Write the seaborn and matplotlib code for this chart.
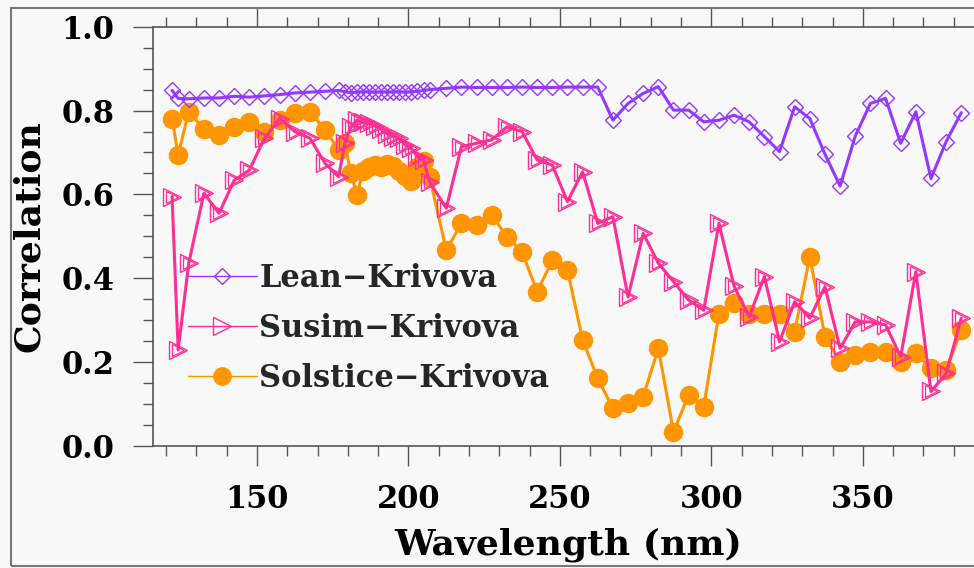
import numpy as np
import pandas as pd
import matplotlib
matplotlib.use("Agg")
import matplotlib.pyplot as plt
import seaborn as sns
from matplotlib.lines import Line2D
from matplotlib.patches import Rectangle
from matplotlib.ticker import MultipleLocator

# ---------------- data ----------------
wavelength = [122, 124, 127.5, 132.5, 137.5, 142.5, 147.5, 152.5, 157.5, 162.5, 167.5, 172.5, 177,
              179, 181, 183, 185, 187, 189, 191, 193, 195, 197, 199, 201, 203, 205, 207,
              212.5, 217.5, 222.5, 227.5, 232.5, 237.5, 242.5, 247.5, 252.5, 257.5, 262.5,
              267.5, 272.5, 277.5, 282.5, 287.5, 292.5, 297.5, 302.5, 307.5, 312.5, 317.5,
              322.5, 327.5, 332.5, 337.5, 342.5, 347.5, 352.5, 357.5, 362.5, 367.5, 372.5,
              377.5, 382.5]

lean = [0.848, 0.829, 0.828, 0.830, 0.830, 0.834, 0.832, 0.835, 0.838, 0.842, 0.844, 0.846, 0.848,
        0.845, 0.843, 0.844, 0.845, 0.845, 0.844, 0.845, 0.844, 0.845, 0.845, 0.844, 0.845, 0.846, 0.848, 0.850,
        0.853, 0.856, 0.855, 0.855, 0.855, 0.856, 0.855, 0.855, 0.856, 0.856, 0.856,
        0.777, 0.817, 0.841, 0.857, 0.801, 0.801, 0.773, 0.777, 0.789, 0.773, 0.738,
        0.702, 0.809, 0.781, 0.696, 0.620, 0.739, 0.817, 0.829, 0.722, 0.797, 0.638,
        0.726, 0.795]

susim = [0.595, 0.229, 0.436, 0.603, 0.555, 0.634, 0.658, 0.734, 0.781, 0.750, 0.734, 0.674, 0.642,
         0.722, 0.761, 0.777, 0.772, 0.770, 0.763, 0.755, 0.745, 0.738, 0.734, 0.718, 0.710, 0.690, 0.682, 0.630,
         0.567, 0.714, 0.722, 0.730, 0.761, 0.750, 0.682, 0.670, 0.583, 0.654, 0.531,
         0.547, 0.355, 0.507, 0.436, 0.392, 0.348, 0.324, 0.531, 0.381, 0.308, 0.404,
         0.249, 0.344, 0.305, 0.380, 0.233, 0.296, 0.296, 0.289, 0.213, 0.416, 0.130,
         0.173, 0.305]

solstice = [0.781, 0.694, 0.797, 0.756, 0.742, 0.761, 0.773, 0.750, 0.777, 0.793, 0.797, 0.754, 0.706,
            0.722, 0.650, 0.599, 0.655, 0.665, 0.670, 0.665, 0.672, 0.668, 0.655, 0.645, 0.632, 0.665, 0.680, 0.642,
            0.467, 0.531, 0.527, 0.551, 0.499, 0.463, 0.368, 0.443, 0.420, 0.253, 0.161,
            0.090, 0.102, 0.118, 0.233, 0.034, 0.122, 0.094, 0.316, 0.340, 0.316, 0.316,
            0.316, 0.273, 0.451, 0.261, 0.201, 0.217, 0.225, 0.225, 0.201, 0.221, 0.185,
            0.181, 0.277]

series_labels = ["Lean\u2212Krivova", "Susim\u2212Krivova", "Solstice\u2212Krivova"]
x_ticks = [150, 200, 250, 300, 350]
y_ticks = [0.0, 0.2, 0.4, 0.6, 0.8, 1.0]

df = pd.DataFrame({"wl": wavelength, "lean": lean, "susim": susim, "solstice": solstice})

# ---------------- style ----------------
sns.set_theme(style="white")
plt.rcParams["font.family"] = ["DejaVu Serif", "DejaVu Sans"]

c_lean = "#9438ff"
c_susim = "#ff2e92"
c_sol = "#ff9500"
axc = "#555555"

W, H = 974, 568
fig = plt.figure(figsize=(W / 100, H / 100), dpi=100)
fig.patch.set_facecolor("#f8f8f8")

left_px, right_px, top_px, bot_px = 152.7, 984.0, 26.7, 446.0
ax = fig.add_axes([left_px / W, 1 - bot_px / H, (right_px - left_px) / W, (bot_px - top_px) / H])
ax.set_facecolor("#f8f8f8")

# Solstice (drawn first, underneath)
sns.lineplot(data=df, x="wl", y="solstice", ax=ax, estimator=None, sort=False,
             color=c_sol, linewidth=2.2, marker="o", markersize=13,
             markerfacecolor=c_sol, markeredgecolor=c_sol, markeredgewidth=1)
# Susim
sns.lineplot(data=df, x="wl", y="susim", ax=ax, estimator=None, sort=False,
             color=c_susim, linewidth=2.2, marker=">", markersize=13,
             markerfacecolor="none", markeredgecolor=c_susim, markeredgewidth=1)
sns.lineplot(data=df, x="wl", y="susim", ax=ax, estimator=None, sort=False,
             color=c_susim, linewidth=0, marker=">", markersize=8,
             markerfacecolor="none", markeredgecolor=c_susim, markeredgewidth=0.9)
# Lean
sns.lineplot(data=df, x="wl", y="lean", ax=ax, estimator=None, sort=False,
             color=c_lean, linewidth=2.2, marker="D", markersize=8.5,
             markerfacecolor="none", markeredgecolor=c_lean, markeredgewidth=1)

ax.set_xlim(115.6, 390.0)
ax.set_ylim(0.0, 1.0)

ax.xaxis.set_major_locator(MultipleLocator(50))
ax.xaxis.set_minor_locator(MultipleLocator(10))
ax.yaxis.set_major_locator(MultipleLocator(0.2))
ax.yaxis.set_minor_locator(MultipleLocator(0.05))
ax.set_xticks(x_ticks)
ax.set_xticklabels([str(v) for v in x_ticks])
ax.set_yticks(y_ticks)
ax.set_yticklabels([f"{v:.1f}" for v in y_ticks])

for s in ["left", "bottom", "top"]:
    ax.spines[s].set_color(axc)
    ax.spines[s].set_linewidth(1.2)
ax.spines["right"].set_visible(False)

ax.tick_params(which="major", direction="out", length=14.5, width=1, color=axc,
               top=True, bottom=True, left=True, right=False,
               labelsize=22, labelcolor="black", pad=13)
ax.tick_params(which="minor", direction="out", length=7, width=1, color=axc,
               top=True, bottom=True, left=True, right=False)
for lab in ax.get_xticklabels() + ax.get_yticklabels():
    lab.set_fontweight("bold")

ax.set_xlabel("Wavelength (nm)", fontsize=26, fontweight="bold", color="black")
ax.set_ylabel("Correlation", fontsize=26, fontweight="bold", color="black")
ax.xaxis.set_label_coords(0.5, -0.195)
ax.yaxis.set_label_coords(-0.128, 0.5)

handles = [
    Line2D([], [], color=c_lean, lw=1, marker="D", ms=8.5, mfc="none", mec=c_lean),
    Line2D([], [], color=c_susim, lw=1, marker=">", ms=12.5, mfc="none", mec=c_susim),
    Line2D([], [], color=c_sol, lw=1, marker="o", ms=12.5, mfc=c_sol, mec=c_sol),
]
leg = ax.legend(handles, series_labels, loc="upper left",
                bbox_to_anchor=((188 - left_px) / (right_px - left_px), (bot_px - 263) / (bot_px - top_px)),
                frameon=False, handlelength=2.25, handletextpad=0.08,
                labelspacing=0.62, borderaxespad=0, borderpad=0, numpoints=1,
                prop={"weight": "bold", "size": 22})

# outer frame
fig.add_artist(Rectangle((11 / W, 2 / H), 1.2, (566 - 8) / H, transform=fig.transFigure,
                         fill=False, edgecolor="#777777", linewidth=1.5))

fig.savefig("out.png", dpi=100, facecolor=fig.get_facecolor())
